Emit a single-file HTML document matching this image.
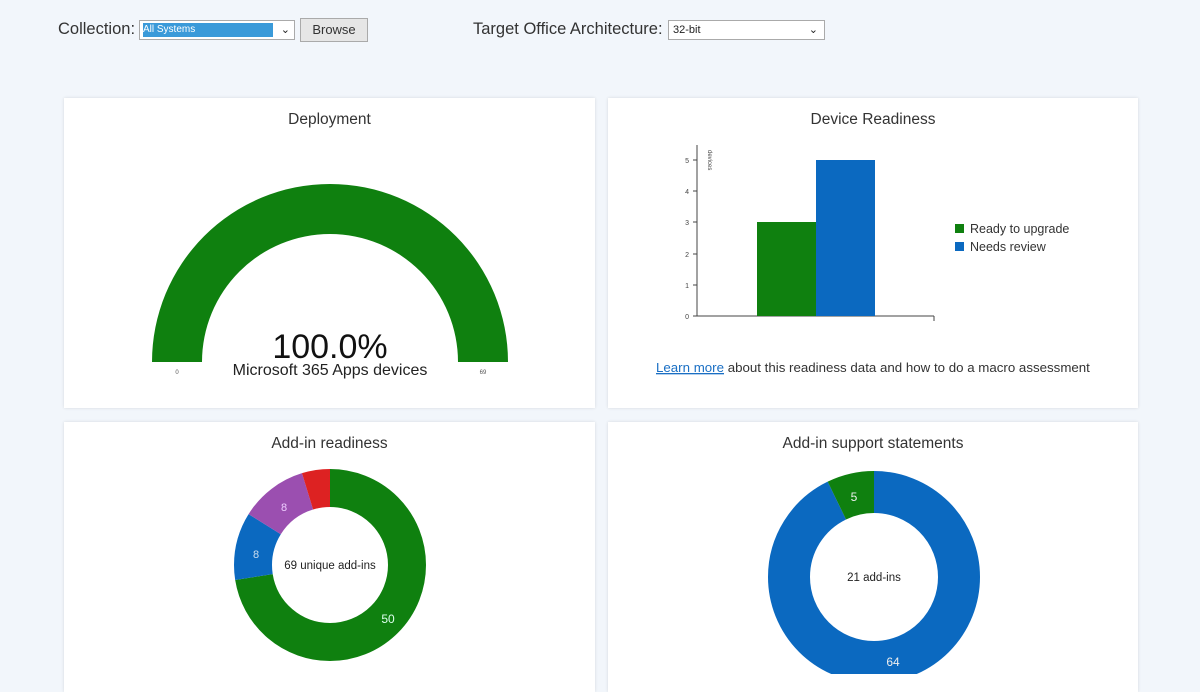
<!DOCTYPE html>
<html><head><meta charset="utf-8"><style>
body{margin:0;width:1200px;height:674px;background:#f2f6fb;font-family:"Liberation Sans",sans-serif;overflow:hidden;position:relative;color:#222}
.card{position:absolute;background:#fff;box-shadow:0 0 3px rgba(0,0,0,.12)}
.t{position:absolute;font-size:15.5px;color:#333;width:100%;text-align:center}
.sel{position:absolute;height:20px;border:1px solid #aaa;background:#fff;box-sizing:border-box;font-size:11px}
</style></head><body>
<div style="position:absolute;left:58px;top:20px;font-size:16.5px;color:#333">Collection:</div>
<div class="sel" style="left:139px;top:20px;width:156px;"><div style="position:absolute;left:3px;top:2px;width:130px;height:14px;background:#3a9ad9;color:#fff;font-size:10px;line-height:14px">All Systems</div><span style="position:absolute;right:4px;top:2px">&#8964;</span></div>
<div style="position:absolute;left:300px;top:18px;width:68px;height:24px;background:#e6e6e6;border:1px solid #aaa;box-sizing:border-box;font-size:13px;text-align:center;line-height:22px;color:#333">Browse</div>
<div style="position:absolute;left:473px;top:20px;font-size:16.5px;color:#333">Target Office Architecture:</div>
<div class="sel" style="left:668px;top:20px;width:157px;"><span style="position:absolute;left:4px;top:3px">32-bit</span><span style="position:absolute;right:6px;top:2px">&#8964;</span></div>

<div class="card" style="left:64px;top:98px;width:531px;height:310px"><div class="t" style="top:13px">Deployment</div></div>
<div class="card" style="left:608px;top:98px;width:530px;height:310px"><div class="t" style="top:13px">Device Readiness</div></div>
<div class="card" style="left:64px;top:422px;width:531px;height:270px"><div class="t" style="top:13px">Add-in readiness</div></div>
<div class="card" style="left:608px;top:422px;width:530px;height:270px"><div class="t" style="top:13px">Add-in support statements</div></div>

<svg width="1200" height="674" style="position:absolute;left:0;top:0" font-family="Liberation Sans, sans-serif">
<path d="M152,362 A178,178 0 0 1 508,362 L458,362 A128,128 0 0 0 202,362 Z" fill="#0f800f"/>
<text x="330" y="358" font-size="34" text-anchor="middle" fill="#111">100.0%</text>
<text x="330" y="375" font-size="16" text-anchor="middle" fill="#222">Microsoft 365 Apps devices</text>
<text x="177" y="374" font-size="6" text-anchor="middle" fill="#555">0</text>
<text x="483" y="374" font-size="6" text-anchor="middle" fill="#555">69</text>

<g stroke="#444" stroke-width="1" fill="none">
<line x1="697" y1="145" x2="697" y2="316"/><line x1="697" y1="316" x2="934" y2="316"/><line x1="934" y1="316" x2="934" y2="321"/>
<line x1="693" y1="316" x2="697" y2="316"/><line x1="693" y1="285" x2="697" y2="285"/><line x1="693" y1="254" x2="697" y2="254"/><line x1="693" y1="222" x2="697" y2="222"/><line x1="693" y1="191" x2="697" y2="191"/><line x1="693" y1="160" x2="697" y2="160"/>
</g>
<g font-size="7" fill="#444" text-anchor="end"><text x="689" y="319">0</text><text x="689" y="288">1</text><text x="689" y="257">2</text><text x="689" y="225">3</text><text x="689" y="194">4</text><text x="689" y="163">5</text></g>
<text font-size="6" fill="#444" transform="translate(708,150) rotate(90)">devices</text>
<rect x="757" y="222" width="59" height="94" fill="#0f800f"/>
<rect x="816" y="160" width="59" height="156" fill="#0b69c0"/>
<rect x="955" y="224" width="9" height="9" fill="#0f800f"/><text x="970" y="233" font-size="12.5" fill="#333">Ready to upgrade</text>
<rect x="955" y="242" width="9" height="9" fill="#0b69c0"/><text x="970" y="251" font-size="12.5" fill="#333">Needs review</text>
<text x="656" y="372" font-size="13.3" fill="#333"><tspan fill="#1a6fc4" text-decoration="underline">Learn more</tspan> about this readiness data and how to do a macro assessment</text>

<g transform="rotate(-90 330 565)" fill="none" stroke-width="38">
<circle cx="330" cy="565" r="77" stroke="#0f800f" stroke-dasharray="350.6 1000"/>
<circle cx="330" cy="565" r="77" stroke="#0b69c0" stroke-dasharray="55.1 1000" stroke-dashoffset="-350.6"/>
<circle cx="330" cy="565" r="77" stroke="#9b4fb0" stroke-dasharray="55.1 1000" stroke-dashoffset="-405.7"/>
<circle cx="330" cy="565" r="77" stroke="#dd2222" stroke-dasharray="23 1000" stroke-dashoffset="-460.8"/>
</g>
<text x="330" y="569" font-size="11.5" text-anchor="middle" fill="#222">69 unique add-ins</text>
<text x="388" y="623" font-size="12" text-anchor="middle" fill="#dfe">50</text>
<text x="256" y="558" font-size="11" text-anchor="middle" fill="#cde">8</text>
<text x="284" y="511" font-size="11" text-anchor="middle" fill="#ecf">8</text>

<g transform="rotate(-90 874 577)" fill="none" stroke-width="42">
<circle cx="874" cy="577" r="85" stroke="#0b69c0" stroke-dasharray="495.4 1000"/>
<circle cx="874" cy="577" r="85" stroke="#0f800f" stroke-dasharray="38.7 1000" stroke-dashoffset="-495.4"/>
</g>
<text x="874" y="581" font-size="11.5" text-anchor="middle" fill="#222">21 add-ins</text>
<text x="854" y="501" font-size="12" text-anchor="middle" fill="#eee">5</text>
<text x="893" y="666" font-size="12" text-anchor="middle" fill="#eee">64</text>
</svg>
</body></html>
